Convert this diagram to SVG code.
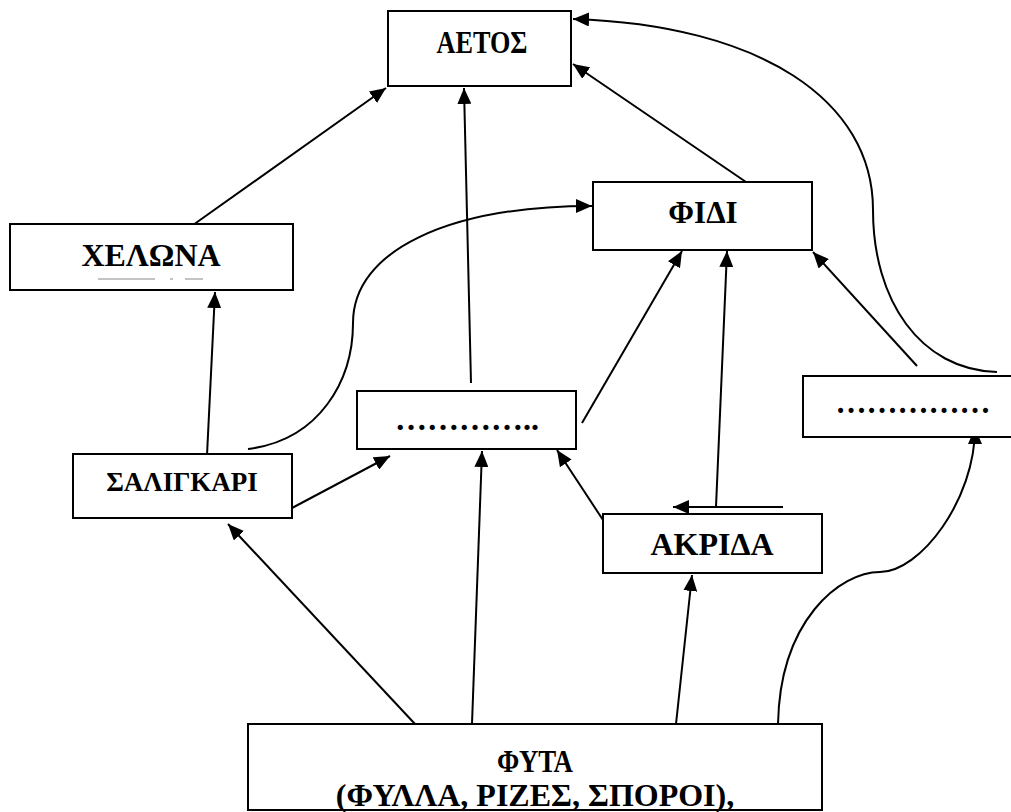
<svg xmlns="http://www.w3.org/2000/svg" width="1011" height="812" viewBox="0 0 1011 812">
<defs>
<marker id="ah" markerUnits="userSpaceOnUse" markerWidth="16" markerHeight="14" viewBox="0 0 16 14" refX="16" refY="7" orient="auto">
<path d="M0,0 L16,7 L0,14 Z" fill="#000"/>
</marker>
<style>
.box{fill:#fff;stroke:#000;stroke-width:2}
.lbl{font-family:"Liberation Serif","Times New Roman",serif;font-weight:bold;font-size:28px;fill:#000;text-anchor:middle}
.big{font-size:32px}
.c{fill:none;stroke:#000;stroke-width:2}
.a{marker-end:url(#ah)}
</style>
</defs>
<rect width="1011" height="812" fill="#fff"/>
<g id="connectors">
<path class="c a" d="M193,225 L386,88"/>
<path class="c a" d="M471,383 L464,88"/>
<path class="c a" d="M746,182 L573,64"/>
<path class="c a" d="M997,372 C920,370 873,300 873,210 C873,100 760,25 573,19"/>
<path class="c a" d="M207,455 L215,292"/>
<path class="c a" d="M248,449 C320,440 353,380 353,323 C353,250 450,206 592,206"/>
<path class="c a" d="M292,508 L390,456"/>
<path class="c a" d="M582,423 L682,251"/>
<path class="c a" d="M716,507 L727,251"/>
<path class="c a" d="M783,507 L673,507"/>
<path class="c a" d="M917,366 L813,252"/>
<path class="c a" d="M603,520 L557,450"/>
<path class="c a" d="M415,724 L228,524"/>
<path class="c a" d="M472,724 L482,451"/>
<path class="c a" d="M676,724 L692,575"/>
<path class="c a" d="M778,724 C780,620 840,572 880,572 C920,572 975,500 975,428"/>
</g>
<g id="aetos"><rect class="box" x="388" y="11" width="183" height="75"/><text class="lbl" x="482" y="53" style="font-size:31px" textLength="91" lengthAdjust="spacingAndGlyphs">ΑΕΤΟΣ</text></g>
<g id="fidi"><rect class="box" x="593" y="182" width="219" height="68"/><text class="lbl" x="703" y="223" style="font-size:31px">ΦΙΔΙ</text></g>
<g id="chelona"><rect class="box" x="10" y="224" width="283" height="66"/><text class="lbl big" x="151" y="266">ΧΕΛΩΝΑ</text>
<path d="M98,279 H155 M170,279 H173 M185,279 H203" stroke="#888" stroke-width="1"/></g>
<g id="saligkari"><rect class="box" x="73" y="454" width="219" height="64"/><text class="lbl" x="182" y="491" style="font-size:27px">ΣΑΛΙΓΚΑΡΙ</text></g>
<g id="middle"><rect class="box" x="357" y="391" width="219" height="58"/><text class="lbl big" x="467" y="430">…………..</text></g>
<g id="right"><rect class="box" x="803" y="376" width="220" height="61"/><text class="lbl" x="913" y="413" style="font-size:31px">……………</text></g>
<g id="akrida"><rect class="box" x="603" y="514" width="219" height="59"/><text class="lbl big" x="712" y="555">ΑΚΡΙΔΑ</text></g>
<g id="fyta"><rect class="box" x="248" y="724" width="574" height="86"/><text class="lbl" x="535" y="772" style="font-size:31px" textLength="76" lengthAdjust="spacingAndGlyphs">ΦΥΤΑ</text><text class="lbl big" x="535" y="806">(ΦΥΛΛΑ, ΡΙΖΕΣ, ΣΠΟΡΟΙ),</text></g>
</svg>
